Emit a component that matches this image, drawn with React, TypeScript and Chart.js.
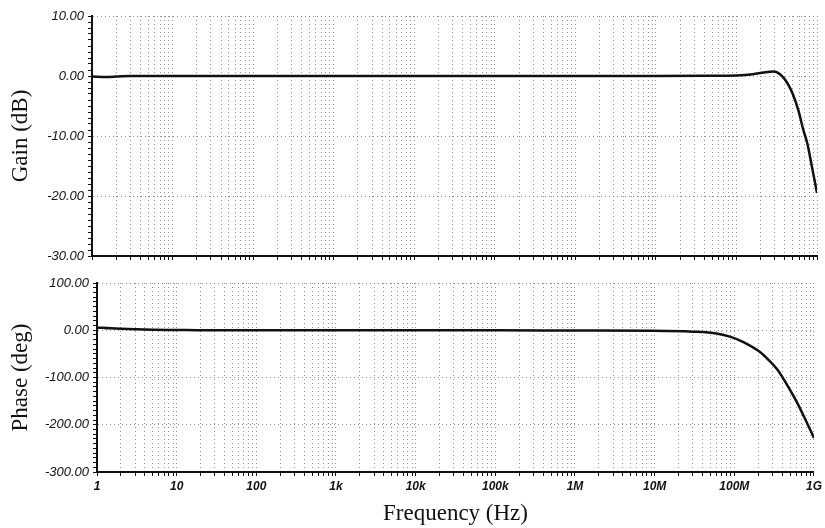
import React, { useEffect, useRef } from "react";
import { Chart, registerables } from "chart.js";

Chart.register(...registerables);

// ---- data ----
const gainFreq = [1, 1.5, 2, 3, 5, 10, 100, 1e3, 1e4, 1e5, 1e6, 1e7, 5e7, 1e8, 1.6e8, 2.2e8, 2.9e8, 3.2e8, 3.6e8, 4.0e8, 4.5e8, 5e8, 5.9e8, 6.7e8, 7.6e8, 8.7e8, 1e9];
const gainDb = [-0.1, -0.15, -0.1, 0, 0, 0, 0, 0, 0, 0, 0, 0, 0.05, 0.1, 0.3, 0.6, 0.75, 0.6, 0.1, -0.6, -1.7, -3.0, -5.8, -8.8, -11.3, -15.3, -19.5];

const phaseFreq = [1, 1.5, 2, 3, 5, 10, 20, 100, 1e3, 1e4, 1e5, 1e6, 1e7, 3e7, 6e7, 9e7, 1.3e8, 2.1e8, 2.7e8, 3.5e8, 5e8, 6e8, 7.5e8, 1e9];
const phaseDeg = [6, 4, 3, 2, 1, 0.5, 0, 0, 0, 0, 0, -0.5, -1, -3, -7, -14, -25, -46, -63, -84, -126, -150, -183, -228];

const decadeValues = [1, 10, 100, 1e3, 1e4, 1e5, 1e6, 1e7, 1e8, 1e9];
const decadeLabels = ["1", "10", "100", "1k", "10k", "100k", "1M", "10M", "100M", "1G"];
const minorMultipliers = [1, 2, 3, 4, 5, 6, 7, 8, 9];

const gainRange = { min: -30, max: 10, major: 10, minor: 1 };
const phaseRange = { min: -300, max: 100, major: 100, minor: 10 };

function buildXTicks() {
  const out: { value: number; major: boolean }[] = [];
  decadeValues.forEach((d, i) => {
    if (i === decadeValues.length - 1) {
      out.push({ value: d, major: true });
      return;
    }
    minorMultipliers.forEach((m) => out.push({ value: d * m, major: m === 1 }));
  });
  return out;
}

const tickFont = { family: "'Liberation Sans', Arial, sans-serif", size: 13, style: "italic" as const };
const titleFont = { family: "'Liberation Serif', 'Times New Roman', serif", size: 23 };

function makeConfig(opts: {
  xs: number[];
  ys: number[];
  range: { min: number; max: number; major: number; minor: number };
  yTitle: string;
  showX: boolean;
  leftWidth: number;
  topPad: number;
  xHeight: number;
}) {
  const { xs, ys, range, yTitle, showX, leftWidth, topPad, xHeight } = opts;
  const gridGray = "rgba(120,120,120,0.8)";
  return {
    type: "line" as const,
    data: {
      datasets: [
        {
          data: xs.map((x, i) => ({ x, y: ys[i] })),
          borderColor: "#111",
          borderWidth: 2.5,
          pointRadius: 0,
          cubicInterpolationMode: "monotone" as const,
          fill: false,
        },
      ],
    },
    options: {
      animation: false as const,
      responsive: false,
      maintainAspectRatio: false,
      layout: { padding: { top: topPad, right: 8, left: 0, bottom: 0 } },
      plugins: { legend: { display: false }, tooltip: { enabled: false } },
      scales: {
        x: {
          type: "logarithmic" as const,
          min: 1,
          max: 1e9,
          afterBuildTicks: (scale: any) => {
            scale.ticks = buildXTicks();
          },
          afterFit: (scale: any) => {
            scale.height = xHeight;
          },
          ticks: {
            autoSkip: false,
            maxRotation: 0,
            padding: 3,
            color: "#111",
            font: { ...tickFont, size: 12, weight: "bold" as const },
            callback: (v: any) => {
              if (!showX) return "";
              const idx = decadeValues.indexOf(Number(v));
              return idx >= 0 ? decadeLabels[idx] : "";
            },
          },
          grid: {
            color: gridGray,
            lineWidth: 1,
            drawTicks: true,
            tickLength: 4,
            tickColor: "#111",
            tickBorderDash: [],
            tickWidth: 1,
          },
          border: { display: true, color: "#111", width: 2, dash: [1, 3] },
          title: showX
            ? {
                display: true,
                text: "Frequency (Hz)",
                color: "#111",
                font: titleFont,
                padding: { top: 0, bottom: 0 },
              }
            : { display: false },
        },
        y: {
          type: "linear" as const,
          min: range.min,
          max: range.max,
          afterFit: (scale: any) => {
            scale.width = leftWidth;
          },
          ticks: {
            stepSize: range.minor,
            autoSkip: false,
            padding: 4,
            color: "#111",
            font: tickFont,
            callback: (v: any) => {
              const n = Number(v);
              if (Math.abs(n % range.major) > 1e-6) return "";
              return n.toFixed(2);
            },
          },
          grid: {
            color: (ctx: any) => {
              const v = ctx.tick ? ctx.tick.value : 0;
              return Math.abs(v % range.major) < 1e-6 ? gridGray : "rgba(0,0,0,0)";
            },
            lineWidth: 1,
            drawTicks: true,
            tickLength: 4,
            tickColor: "#111",
            tickBorderDash: [],
            tickWidth: 1,
          },
          border: { display: true, color: "#111", width: 2, dash: [1, 3] },
          title: {
            display: true,
            text: yTitle,
            color: "#111",
            font: titleFont,
            padding: { top: 7, bottom: 0 },
          },
        },
      },
    },
  };
}

function Panel(props: { top: number; height: number; cfg: any }) {
  const ref = useRef<HTMLCanvasElement | null>(null);
  useEffect(() => {
    if (!ref.current) return;
    const chart = new Chart(ref.current, props.cfg);
    return () => chart.destroy();
  }, []);
  return (
    <canvas
      ref={ref}
      width={825}
      height={props.height}
      style={{ position: "absolute", left: 0, top: props.top, width: 825, height: props.height }}
    />
  );
}

export default function App() {
  const gainCfg = makeConfig({
    xs: gainFreq,
    ys: gainDb,
    range: gainRange,
    yTitle: "Gain (dB)",
    showX: false,
    leftWidth: 92,
    topPad: 16,
    xHeight: 14,
  });
  const phaseCfg = makeConfig({
    xs: phaseFreq,
    ys: phaseDeg,
    range: phaseRange,
    yTitle: "Phase (deg)",
    showX: true,
    leftWidth: 97,
    topPad: 13,
    xHeight: 56,
  });
  return (
    <div style={{ position: "fixed", left: 0, top: 0, width: 825, height: 528, background: "#fff", overflow: "hidden" }}>
      <Panel top={0} height={270} cfg={gainCfg} />
      <Panel top={270} height={258} cfg={phaseCfg} />
    </div>
  );
}
